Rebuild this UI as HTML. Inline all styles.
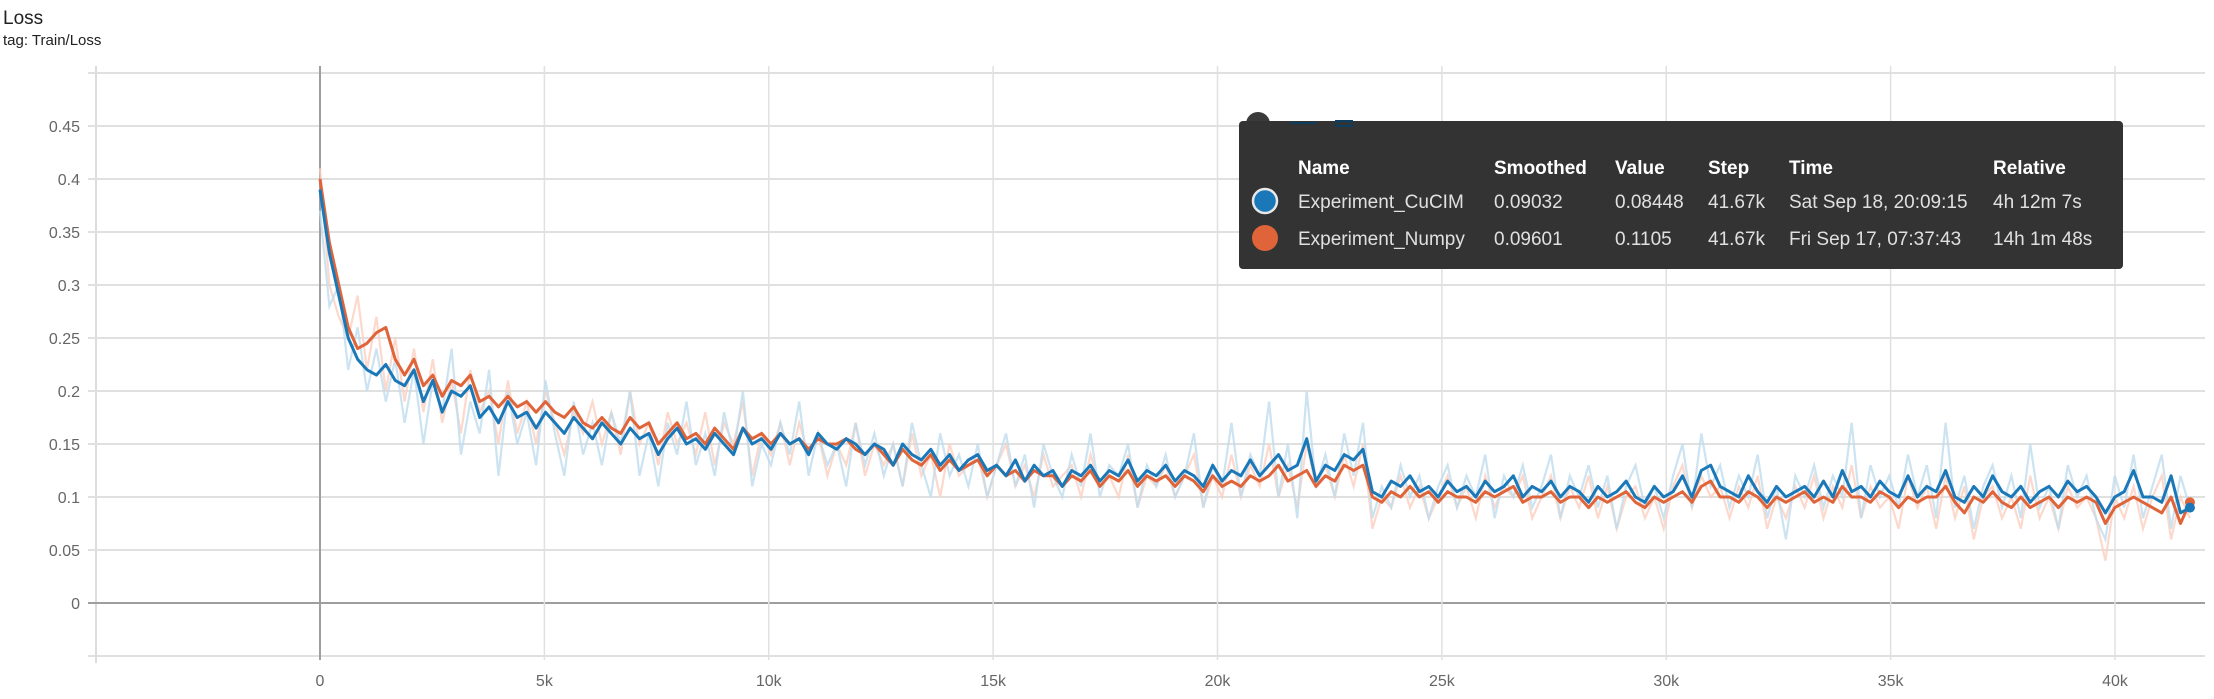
<!DOCTYPE html>
<html><head><meta charset="utf-8"><style>
html,body{margin:0;padding:0;background:#fff;width:2214px;height:699px;overflow:hidden;font-family:"Liberation Sans",sans-serif}
</style></head><body>
<svg id="chart" width="2214" height="699" xmlns="http://www.w3.org/2000/svg" style="position:absolute;left:0;top:0">
<text x="3" y="24" font-size="19" fill="#212121">Loss</text>
<text x="3" y="45" font-size="15" fill="#212121">tag: Train/Loss</text>
<g id="grid"></g>
<g id="series"></g>
<g>
<circle cx="1258" cy="124" r="12" fill="#3a3a3a"/>
<rect x="1239" y="121" width="884" height="148" rx="4" fill="#333"/>
<rect x="1290" y="122" width="26" height="2" fill="#0d3d5e"/>
<rect x="1336" y="121" width="16" height="5" fill="none" stroke="#0d3d5e" stroke-width="2"/>
<g font-family="'Liberation Sans Narrow','Liberation Sans',sans-serif" font-size="19" fill="#fff">
<text x="1298" y="174" font-weight="bold">Name</text>
<text x="1494" y="174" font-weight="bold">Smoothed</text>
<text x="1615" y="174" font-weight="bold">Value</text>
<text x="1708" y="174" font-weight="bold">Step</text>
<text x="1789" y="174" font-weight="bold">Time</text>
<text x="1993" y="174" font-weight="bold">Relative</text>
<g fill="#e0e0e0">
<circle cx="1265" cy="201" r="12" fill="#1a78b8" stroke="#e8e8e8" stroke-width="2.5"/>
<text x="1298" y="208">Experiment_CuCIM</text><text x="1494" y="208">0.09032</text><text x="1615" y="208">0.08448</text><text x="1708" y="208">41.67k</text><text x="1789" y="208">Sat Sep 18, 20:09:15</text><text x="1993" y="208">4h 12m 7s</text>
</g>
<g fill="#e0e0e0">
<circle cx="1265" cy="238" r="13" fill="#e0643a"/>
<text x="1298" y="245">Experiment_Numpy</text><text x="1494" y="245">0.09601</text><text x="1615" y="245">0.1105</text><text x="1708" y="245">41.67k</text><text x="1789" y="245">Fri Sep 17, 07:37:43</text><text x="1993" y="245">14h 1m 48s</text>
</g>
</g>
</g>
</svg>
<script>
const xTicks = [0,5000,10000,15000,20000,25000,30000,35000,40000];
const xTickLabels = ["0","5k","10k","15k","20k","25k","30k","35k","40k"];
const yTicks = [0,0.05,0.1,0.15,0.2,0.25,0.3,0.35,0.4,0.45];
const yTickLabels = ["0","0.05","0.1","0.15","0.2","0.25","0.3","0.35","0.4","0.45"];
const lastStep = 41670;
const cucimSmoothed = [0.39,0.33,0.29,0.25,0.23,0.22,0.215,0.225,0.21,0.205,0.22,0.19,0.21,0.18,0.2,0.195,0.205,0.175,0.185,0.17,0.19,0.175,0.18,0.165,0.18,0.17,0.16,0.175,0.165,0.155,0.17,0.16,0.15,0.165,0.155,0.16,0.14,0.155,0.165,0.15,0.155,0.145,0.16,0.15,0.14,0.165,0.15,0.155,0.145,0.16,0.15,0.155,0.14,0.16,0.15,0.145,0.155,0.15,0.14,0.15,0.145,0.13,0.15,0.14,0.135,0.145,0.13,0.14,0.125,0.135,0.14,0.125,0.13,0.12,0.135,0.115,0.13,0.12,0.125,0.11,0.125,0.12,0.13,0.115,0.125,0.12,0.135,0.115,0.125,0.12,0.13,0.115,0.125,0.12,0.11,0.13,0.115,0.125,0.12,0.135,0.12,0.13,0.14,0.125,0.13,0.155,0.115,0.13,0.125,0.14,0.135,0.145,0.105,0.1,0.115,0.11,0.12,0.105,0.11,0.1,0.115,0.105,0.11,0.1,0.115,0.105,0.11,0.12,0.1,0.11,0.105,0.115,0.1,0.11,0.105,0.095,0.11,0.1,0.105,0.115,0.1,0.095,0.11,0.1,0.105,0.12,0.1,0.125,0.13,0.11,0.105,0.1,0.12,0.105,0.095,0.11,0.1,0.105,0.11,0.1,0.115,0.1,0.125,0.105,0.11,0.1,0.115,0.105,0.1,0.12,0.1,0.11,0.105,0.125,0.1,0.095,0.11,0.1,0.12,0.105,0.1,0.11,0.095,0.105,0.11,0.1,0.115,0.105,0.11,0.1,0.085,0.1,0.105,0.125,0.1,0.1,0.095,0.12,0.085,0.09];
const numpySmoothed = [0.40,0.34,0.30,0.26,0.24,0.245,0.255,0.26,0.23,0.215,0.23,0.205,0.215,0.195,0.21,0.205,0.215,0.19,0.195,0.185,0.195,0.185,0.19,0.18,0.19,0.18,0.175,0.185,0.17,0.165,0.175,0.165,0.16,0.175,0.165,0.17,0.15,0.16,0.17,0.155,0.16,0.15,0.165,0.155,0.145,0.165,0.155,0.16,0.15,0.16,0.15,0.155,0.145,0.155,0.15,0.15,0.155,0.145,0.14,0.15,0.14,0.13,0.145,0.135,0.13,0.14,0.125,0.135,0.125,0.13,0.135,0.12,0.13,0.12,0.125,0.115,0.125,0.12,0.12,0.11,0.12,0.115,0.125,0.11,0.12,0.115,0.125,0.11,0.12,0.115,0.12,0.11,0.12,0.115,0.105,0.12,0.11,0.115,0.11,0.12,0.115,0.12,0.13,0.115,0.12,0.125,0.11,0.12,0.115,0.13,0.125,0.13,0.1,0.095,0.105,0.1,0.11,0.1,0.105,0.095,0.105,0.1,0.1,0.095,0.105,0.1,0.105,0.11,0.095,0.1,0.1,0.105,0.095,0.1,0.1,0.09,0.1,0.095,0.1,0.105,0.095,0.09,0.1,0.095,0.1,0.105,0.095,0.11,0.115,0.1,0.1,0.095,0.105,0.1,0.09,0.1,0.095,0.1,0.105,0.095,0.1,0.095,0.11,0.1,0.1,0.095,0.105,0.1,0.09,0.1,0.095,0.1,0.1,0.11,0.095,0.085,0.1,0.095,0.105,0.095,0.09,0.1,0.09,0.095,0.1,0.09,0.1,0.095,0.1,0.095,0.075,0.09,0.095,0.1,0.095,0.09,0.085,0.1,0.075,0.095];
const cucimRaw = [0.37,0.28,0.3,0.22,0.26,0.2,0.24,0.19,0.23,0.17,0.22,0.15,0.21,0.18,0.24,0.14,0.19,0.16,0.22,0.12,0.2,0.15,0.18,0.13,0.21,0.16,0.12,0.19,0.14,0.17,0.13,0.18,0.15,0.2,0.12,0.16,0.11,0.17,0.14,0.19,0.13,0.16,0.12,0.18,0.14,0.2,0.11,0.15,0.13,0.17,0.14,0.19,0.12,0.16,0.13,0.15,0.11,0.17,0.13,0.16,0.12,0.15,0.11,0.17,0.13,0.1,0.16,0.12,0.14,0.11,0.15,0.1,0.13,0.16,0.11,0.14,0.09,0.15,0.12,0.1,0.14,0.11,0.16,0.1,0.13,0.12,0.15,0.09,0.13,0.11,0.14,0.1,0.12,0.16,0.09,0.13,0.11,0.17,0.1,0.14,0.12,0.19,0.1,0.15,0.08,0.2,0.11,0.14,0.1,0.16,0.12,0.17,0.08,0.11,0.09,0.13,0.1,0.12,0.08,0.11,0.13,0.09,0.12,0.1,0.14,0.08,0.12,0.1,0.13,0.09,0.11,0.14,0.08,0.12,0.1,0.13,0.09,0.12,0.07,0.11,0.13,0.09,0.11,0.08,0.12,0.15,0.09,0.16,0.11,0.13,0.09,0.12,0.1,0.14,0.08,0.11,0.06,0.12,0.1,0.13,0.09,0.12,0.1,0.17,0.08,0.13,0.1,0.12,0.09,0.14,0.1,0.13,0.08,0.17,0.09,0.12,0.07,0.11,0.13,0.09,0.12,0.08,0.15,0.09,0.11,0.07,0.13,0.1,0.12,0.08,0.06,0.12,0.09,0.14,0.08,0.11,0.14,0.07,0.12,0.09];
const numpyRaw = [0.41,0.3,0.27,0.25,0.29,0.22,0.27,0.2,0.25,0.19,0.24,0.18,0.23,0.17,0.21,0.16,0.22,0.18,0.2,0.15,0.21,0.16,0.19,0.15,0.2,0.17,0.14,0.18,0.16,0.19,0.15,0.18,0.14,0.2,0.15,0.17,0.13,0.18,0.15,0.17,0.14,0.18,0.13,0.17,0.15,0.19,0.12,0.16,0.14,0.17,0.13,0.17,0.14,0.16,0.12,0.15,0.13,0.17,0.12,0.15,0.13,0.15,0.11,0.16,0.12,0.14,0.1,0.15,0.12,0.13,0.14,0.1,0.13,0.15,0.11,0.13,0.1,0.14,0.11,0.12,0.13,0.1,0.14,0.11,0.12,0.1,0.14,0.09,0.12,0.11,0.13,0.1,0.12,0.14,0.09,0.12,0.1,0.14,0.1,0.13,0.11,0.15,0.1,0.13,0.09,0.15,0.11,0.13,0.1,0.14,0.11,0.15,0.07,0.1,0.09,0.12,0.09,0.11,0.08,0.1,0.12,0.09,0.11,0.08,0.12,0.09,0.11,0.1,0.12,0.08,0.1,0.12,0.08,0.11,0.09,0.12,0.08,0.11,0.07,0.1,0.11,0.08,0.1,0.07,0.11,0.13,0.09,0.12,0.1,0.11,0.08,0.11,0.09,0.12,0.07,0.1,0.08,0.11,0.09,0.12,0.08,0.11,0.09,0.13,0.08,0.11,0.09,0.1,0.07,0.12,0.09,0.11,0.07,0.12,0.08,0.11,0.06,0.1,0.11,0.08,0.1,0.07,0.12,0.08,0.1,0.07,0.11,0.09,0.1,0.08,0.04,0.1,0.08,0.11,0.07,0.1,0.12,0.06,0.1,0.08];

const NS = "http://www.w3.org/2000/svg";
const X0 = 320, PX_PER_STEP = (2115 - 320) / 40000;
const Y0 = 603, PX_PER_UNIT = 53 / 0.05;
function xScale(s){ return X0 + s * PX_PER_STEP; }
function yScale(v){ return Y0 - v * PX_PER_UNIT; }
function mk(tag, attrs, parent){ const e = document.createElementNS(NS, tag); for (const k in attrs) e.setAttribute(k, attrs[k]); parent.appendChild(e); return e; }

const grid = document.getElementById('grid');
const series = document.getElementById('series');
[0.5, -0.05].forEach(v => {
  const l = mk('line', {x1:88, x2:2205, y1:yScale(v), y2:yScale(v), stroke:'#e0e0e0', 'stroke-width':2}, grid);
  
  
});
const leftAxis = mk('line', {x1:96, x2:96, y1:66, y2:663, stroke:'#dcdcdc', 'stroke-width':2}, grid);


yTicks.forEach((v, i) => {
  const zero = v === 0;
  const l = mk('line', {x1:88, x2:2205, y1:yScale(v), y2:yScale(v), stroke: zero ? '#9e9e9e' : '#e0e0e0', 'stroke-width':2}, grid);
  
  
  const t = mk('text', {x:80, y:yScale(v) + 6, 'text-anchor':'end', 'font-size':16, fill:'#666'}, grid);
  t.textContent = yTickLabels[i];
  
  
});
xTicks.forEach((s, i) => {
  const zero = s === 0;
  const l = mk('line', {x1:xScale(s), x2:xScale(s), y1:66, y2:660, stroke: zero ? '#9e9e9e' : '#e0e0e0', 'stroke-width': zero ? 2 : 1.5}, grid);
  
  
  const t = mk('text', {x:xScale(s), y:686, 'text-anchor':'middle', 'font-size':16, fill:'#666'}, grid);
  t.textContent = xTickLabels[i];
  
  
});

function pathFor(vals){
  const n = vals.length;
  return vals.map((v, i) => (i ? 'L' : 'M') + xScale(i * lastStep / (n - 1)).toFixed(1) + ',' + yScale(v).toFixed(1)).join(' ');
}
const rawN = mk('path', {d:pathFor(numpyRaw), fill:'none', stroke:'#fbcfbf', 'stroke-width':2.2, opacity:0.8}, series);


const rawC = mk('path', {d:pathFor(cucimRaw), fill:'none', stroke:'#bfdcee', 'stroke-width':2.2, opacity:0.8}, series);


const smN = mk('path', {d:pathFor(numpySmoothed), fill:'none', stroke:'#e0643a', 'stroke-width':3, 'stroke-linejoin':'round'}, series);


const smC = mk('path', {d:pathFor(cucimSmoothed), fill:'none', stroke:'#1a78b8', 'stroke-width':3, 'stroke-linejoin':'round'}, series);


const dN = mk('circle', {cx:xScale(lastStep), cy:yScale(numpySmoothed[numpySmoothed.length-1]), r:5, fill:'#e0643a'}, series);


const dC = mk('circle', {cx:xScale(lastStep), cy:yScale(cucimSmoothed[cucimSmoothed.length-1]), r:5, fill:'#1a78b8'}, series);


</script>
</body></html>
